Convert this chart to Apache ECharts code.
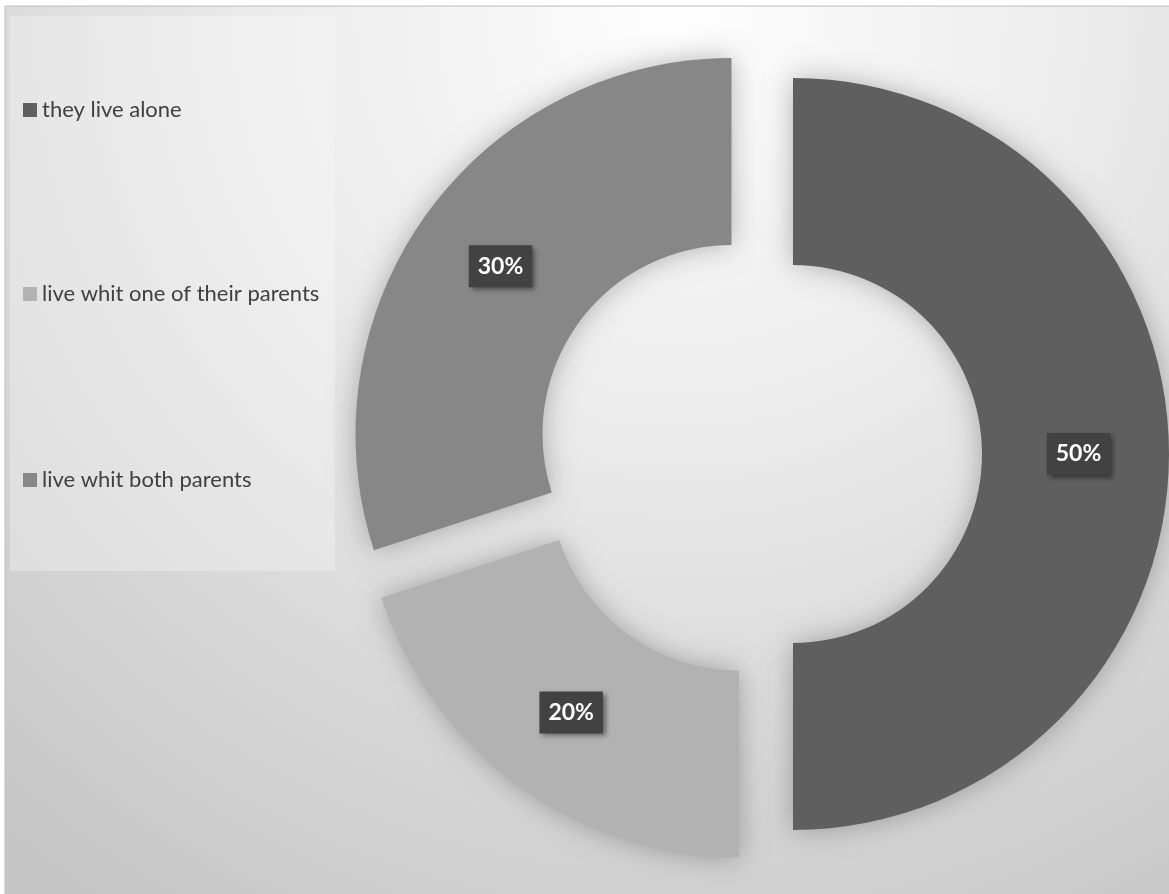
<!DOCTYPE html>
<html>
<head>
<meta charset="utf-8">
<script src="https://cdn.jsdelivr.net/npm/echarts@6/dist/echarts.min.js"></script>
<style>
  html, body { margin: 0; padding: 0; background: #ffffff; }
  #chart { width: 1169px; height: 894px; }
</style>
</head>
<body>
<div id="chart"></div>
<script>
const categories = ['they live alone', 'live whit one of their parents', 'live whit both parents'];
const values = [50, 20, 30];
const colors = ['#5f5f5f', '#b2b2b2', '#878787'];
const legendTops = [94, 278, 464];

const chart = echarts.init(document.getElementById('chart'), null, { renderer: 'canvas' });

const legends = categories.map((name, i) => ({
  data: [name],
  left: 18,
  top: legendTops[i],
  orient: 'vertical',
  icon: 'rect',
  itemWidth: 14,
  itemHeight: 14,
  selectedMode: false,
  itemStyle: { shadowBlur: 0, shadowColor: 'transparent' },
  textStyle: { fontFamily: 'Lato', fontSize: 22, color: '#404040' }
}));

const option = {
  animation: false,
  backgroundColor: '#ffffff',
  graphic: [
    {
      type: 'rect', z: -10, silent: true,
      shape: { x: 5, y: 6, width: 1170, height: 895 },
      style: {
        fill: new echarts.graphic.RadialGradient(680, 20, 1050, [
          { offset: 0, color: '#fefefe' },
          { offset: 0.4, color: '#ebebeb' },
          { offset: 0.7, color: '#d8d8d8' },
          { offset: 1, color: '#c6c6c6' }
        ], true),
        stroke: '#bdbdbd', lineWidth: 1
      }
    },
    {
      type: 'rect', z: -9, silent: true,
      shape: { x: 10, y: 16, width: 325, height: 555 },
      style: { fill: 'rgba(255,255,255,0.28)' }
    }
  ],
  legend: legends,
  series: [{
    type: 'pie',
    center: [759, 454],
    radius: [189, 376],
    startAngle: 90,
    clockwise: true,
    selectedMode: 'multiple',
    selectedOffset: 34,
    avoidLabelOverlap: false,
    emphasis: { disabled: true },
    itemStyle: {
      shadowBlur: 28,
      shadowColor: 'rgba(0,0,0,0.28)',
      shadowOffsetX: 0,
      shadowOffsetY: 0
    },
    label: {
      show: true,
      position: 'inside',
      formatter: '{c}%',
      color: '#ffffff',
      fontFamily: 'Lato',
      fontWeight: 'bold',
      fontSize: 23,
      backgroundColor: '#424242',
      padding: [10, 9, 9, 9],
      shadowColor: 'rgba(0,0,0,0.45)',
      shadowBlur: 5,
      shadowOffsetX: 3,
      shadowOffsetY: 3
    },
    labelLine: { show: false },
    data: categories.map((name, i) => ({
      name: name,
      value: values[i],
      selected: true,
      itemStyle: { color: colors[i] }
    }))
  }]
};

chart.setOption(option);
</script>
</body>
</html>
